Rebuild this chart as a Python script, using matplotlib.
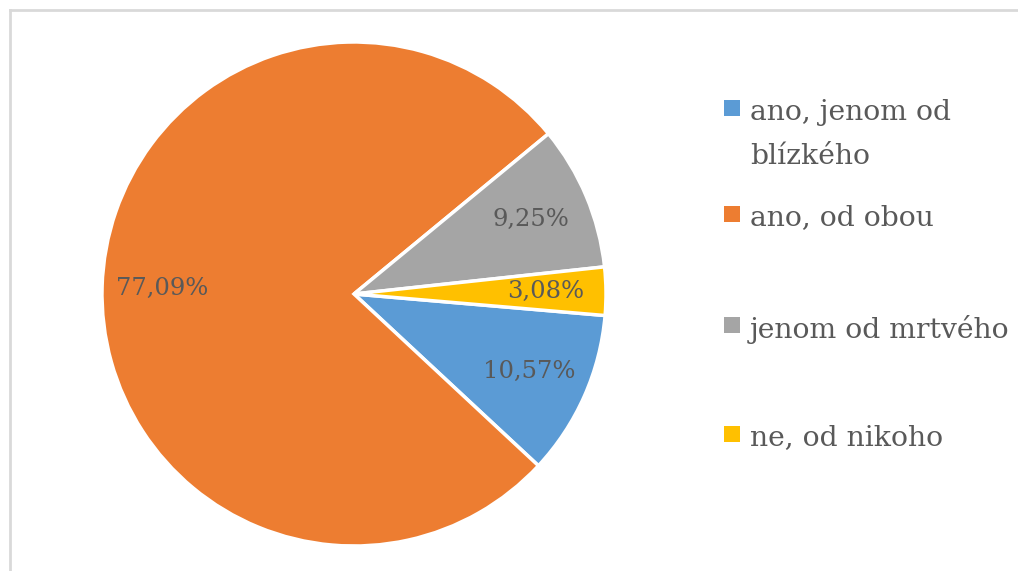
import matplotlib
matplotlib.use("Agg")
import matplotlib.pyplot as plt
from matplotlib.lines import Line2D
from matplotlib.patches import Rectangle

# odpovědi a podíly v procentech
categories = ["ano, jenom od\nblízkého", "ano, od obou", "jenom od mrtvého", "ne, od nikoho"]
shares = [10.57, 77.09, 9.25, 3.08]
colors = ["#5B9BD5", "#ED7D31", "#A5A5A5", "#FFC000"]

W, H, DPI = 1018, 571, 100
text_color = "#595959"
font = "DejaVu Serif"

fig = plt.figure(figsize=(W / DPI, H / DPI), dpi=DPI)

# pie centre and radius in pixels
cx, cy, r = 354, 294, 252
ax = fig.add_axes([(cx - r) / W, (H - cy - r) / H, 2 * r / W, 2 * r / H])

labels = [f"{v:.2f}%".replace(".", ",") for v in shares]
wedges, texts, autotexts = ax.pie(
    shares, colors=colors, startangle=-4.9, counterclock=False,
    autopct="%1.1f", pctdistance=0.76,
    wedgeprops=dict(edgecolor="white", linewidth=2.5),
    textprops=dict(color=text_color, fontsize=17.5, family=font))
for t, lab in zip(autotexts, labels):
    t.set_text(lab)
for w in wedges:
    w.set_clip_on(False)
ax.set_xlim(-1, 1)
ax.set_ylim(-1, 1)
ax.set_aspect("equal")

# legend drawn by hand so the square sits on the first line of text
legend_y = [109, 215, 326, 435]
line_gap = 44
for label, col, y in zip(categories, colors, legend_y):
    fig.add_artist(Rectangle((724 / W, (H - y - 7) / H), 16 / W, 16 / H,
                             transform=fig.transFigure, color=col, lw=0))
    for i, line in enumerate(label.split("\n")):
        fig.text(750 / W, (H - y - i * line_gap) / H, line, color=text_color,
                 fontsize=20.3, family=font, va="center_baseline", ha="left")

# chart area border (cut off on the right and bottom)
fig.add_artist(Line2D([10 / W, 10 / W], [0, (H - 10) / H], color="#D9D9D9", lw=2,
                      transform=fig.transFigure))
fig.add_artist(Line2D([10 / W, 1], [(H - 10) / H, (H - 10) / H], color="#D9D9D9", lw=2,
                      transform=fig.transFigure))

fig.savefig("out.png", dpi=DPI)
